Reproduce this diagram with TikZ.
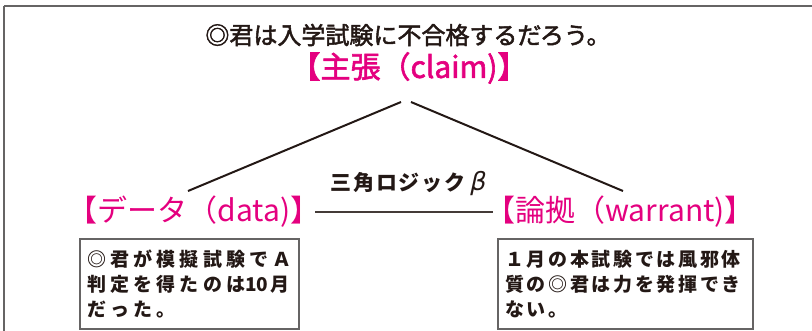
\documentclass[tikz,border=0pt]{standalone}
\usepackage{fontspec}
\setmainfont{Noto Sans CJK JP}
\newfontfamily\medfont[FakeBold=2]{Noto Sans CJK JP}
\newfontfamily\betafont[FakeSlant=0.22]{DejaVu Sans}
\newfontfamily\dfont[LetterSpace=22]{Noto Sans CJK JP}
\newfontfamily\wfont[LetterSpace=14]{Noto Sans CJK JP}
\newfontfamily\lfont[LetterSpace=8]{Noto Sans CJK JP}
\definecolor{mag}{HTML}{E4007F}
\definecolor{ink}{HTML}{231815}
\definecolor{framegray}{HTML}{666464}
\tikzset{
  titletext/.style={font=\medfont\fontsize{24}{28}\selectfont, text=ink, inner sep=0},
  lab/.style={font=\fontsize{30}{34}\selectfont, text=mag, inner sep=0},
  conn/.style={draw=ink, line width=2},
  hconn/.style={draw=ink!85, line width=2},
  infobox/.style={draw=framegray, line width=1.5, minimum height=90, anchor=north west, inner sep=0},
  boxtext/.style={text=ink, align=left, inner sep=0, anchor=west},
  logictext/.style={font=\lfont\bfseries\fontsize{21}{24}\selectfont, text=ink, inner sep=0},
}
\begin{document}
\begin{tikzpicture}[x=1pt,y=-1pt]
\useasboundingbox (0,0) rectangle (812,330);
\draw[framegray, line width=1.5] (4,6) -- (830,6);
\draw[framegray, line width=1.5] (4,6) -- (4,340);

\node[titletext] (title) at (408,35) {◎君は入学試験に不合格するだろう。};
\node[lab, font=\medfont\fontsize{30}{34}\selectfont] (claim) at (409,68) {【主張（claim)】};

\node[lab] (data) at (194,212) {【データ（data)】};
\node[lab] (warrant) at (620,212) {【論拠（warrant)】};

\node[logictext] (logic) at (408,184) {三角ロジック\hspace{4pt}{\betafont\mdseries\fontsize{25}{25}\selectfont β}};

\coordinate (cL) at (401,102);
\coordinate (cR) at (411,102);
\coordinate (dT) at (188,191);
\coordinate (wT) at (623,191);
\coordinate (hL) at (315,212);
\coordinate (hR) at (493,212);
\draw[conn] (cL) -- (dT);
\draw[conn] (cR) -- (wT);
\draw[hconn] (hL) -- (hR);

\node[infobox, minimum width=219] (dbox) at (79,238) {};
\node[boxtext, font=\dfont\bfseries\fontsize{19}{25}\selectfont] (dtext) at ([xshift=8]dbox.west)
  {◎君が模擬試験でＡ\\判定を得たのは{\rmfamily 10}\hspace{2pt}月\\だった。};

\node[infobox, minimum width=255] (wbox) at (497,238) {};
\node[boxtext, font=\wfont\bfseries\fontsize{19}{25}\selectfont] (wtext) at ([xshift=8]wbox.west)
  {１月の本試験では風邪体\\質の◎君は力を発揮でき\\ない。};
\end{tikzpicture}
\end{document}
